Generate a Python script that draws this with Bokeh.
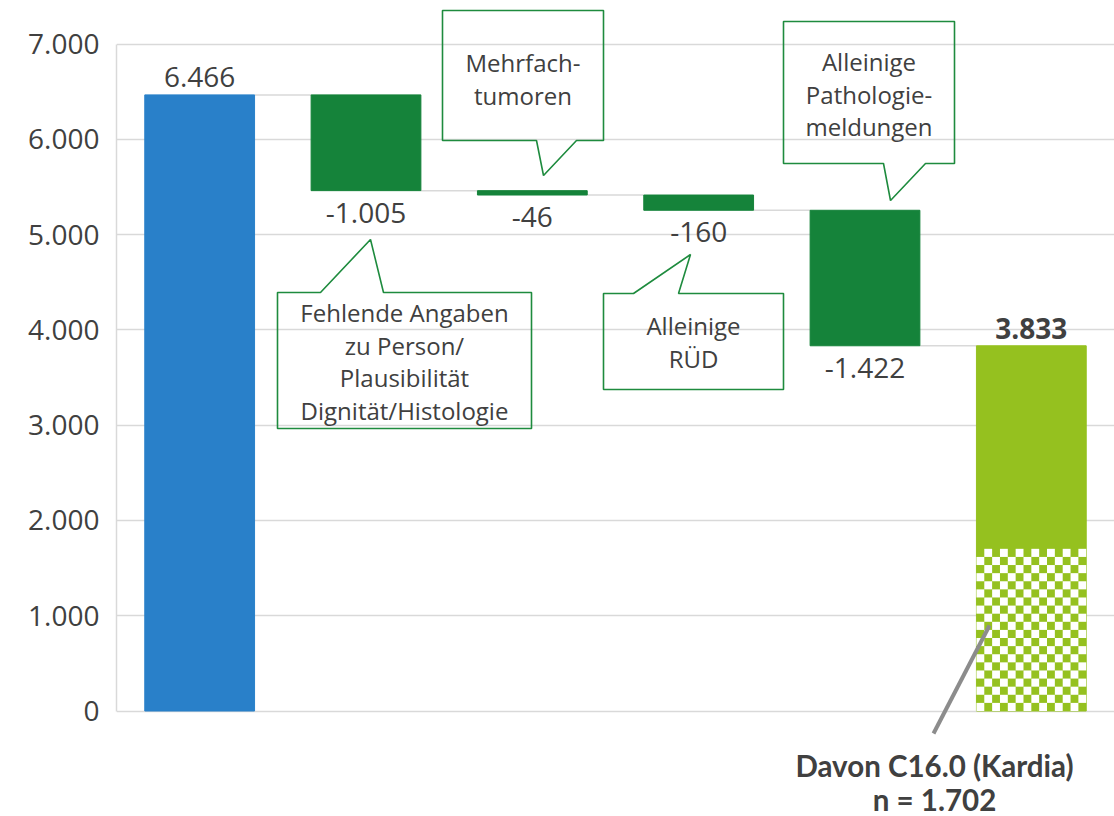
import numpy as np
from bokeh.plotting import figure
from bokeh.models import Range1d, FixedTicker
from bokeh.core.properties import value
from bokeh.embed import file_html
from bokeh.resources import INLINE

# ---------------- data ----------------
categories = ["Ausgangsbestand", "Fehlende Angaben", "Mehrfachtumoren",
              "Alleinige RÜD", "Alleinige Pathologiemeldungen", "Ergebnis"]
steps = [6466, -1005, -46, -160, -1422]
total = 3833
kardia = 1702
tick_values = [0, 1000, 2000, 3000, 4000, 5000, 6000, 7000]
tick_labels = ["0", "1.000", "2.000", "3.000", "4.000", "5.000", "6.000", "7.000"]
callout_texts = [
    ["Fehlende Angaben", "zu Person/", "Plausibilität", "Dignität/Histologie"],
    ["Mehrfach-", "tumoren"],
    ["Alleinige", "RÜD"],
    ["Alleinige", "Pathologie-", "meldungen"],
]
note_lines = ["Davon C16.0 (Kardia)", "n = 1.702"]

# ---------------- layout helpers (pixel -> data) ----------------
W, H = 1114, 816
X0_PX, Y0_PX = 116, 710.5
PX_PER_CAT = (W - X0_PX) / 6
PX_PER_UNIT = (710.5 - 43.5) / 7000


def dx(px):
    return (px - X0_PX) / PX_PER_CAT


def dy(py):
    return (Y0_PX - py) / PX_PER_UNIT


def fmt(v):
    return f"{v:,}".replace(",", ".")


TEXT = "#404040"
GRID = "#d9d9d9"
BLUE = "#2980C9"
DGREEN = "#15833A"
LGREEN = "#95C11F"
NUM_FONT = "Open Sans"
NUM_SIZE = "28px"

p = figure(width=W, height=H, output_backend="svg", toolbar_location=None,
           x_range=Range1d(0, 6), y_range=Range1d(dy(H), dy(0)),
           x_axis_type=None, min_border_left=X0_PX, min_border_right=0,
           min_border_top=0, min_border_bottom=0)
p.outline_line_color = None
p.background_fill_color = "white"
p.border_fill_color = "white"

# axis
ax = p.yaxis[0]
ax.ticker = FixedTicker(ticks=tick_values)
ax.major_label_overrides = {t: l for t, l in zip(tick_values, tick_labels)}
ax.bounds = (tick_values[0], tick_values[-1])
ax.axis_line_color = GRID
ax.axis_line_width = 1.5
ax.major_tick_line_color = None
ax.minor_tick_line_color = None
ax.major_label_standoff = 11
ax.major_label_text_font = NUM_FONT
ax.major_label_text_font_size = NUM_SIZE
ax.major_label_text_color = TEXT
p.ygrid.ticker = FixedTicker(ticks=tick_values)
p.ygrid.grid_line_color = GRID
p.ygrid.grid_line_width = 1.5
p.xgrid.visible = False

# waterfall geometry
xs = np.arange(6) + 0.5
bottoms, tops = [], []
run = 0
for i, v in enumerate(steps):
    if i == 0:
        bottoms.append(0); tops.append(v); run = v
    else:
        tops.append(run); run += v; bottoms.append(run)
bottoms.append(0); tops.append(total)
colors = [BLUE] + [DGREEN] * 4 + [LGREEN]
BW = 0.66

# connectors
levels = [tops[0]] + bottoms[1:5]
p.segment(x0=xs[:5] + BW / 2, x1=xs[1:] - BW / 2, y0=levels, y1=levels,
          line_color=GRID, line_width=1.5)

p.vbar(x=xs, width=BW, bottom=bottoms, top=tops, fill_color=colors,
       line_color=colors, line_width=1)

# checker pattern for Kardia subset
ncol, nrow = 14, 20
cw, ch = BW / ncol, kardia / nrow
ii, jj = np.meshgrid(np.arange(ncol), np.arange(nrow))
mask = ((ii + jj) % 2 == 0).ravel()
lefts = (xs[5] - BW / 2 + ii.ravel() * cw)[mask]
bots = (jj.ravel() * ch)[mask]
p.quad(left=lefts, right=lefts + cw, bottom=bots, top=bots + ch,
       fill_color="white", line_color=None)

# value labels
lab_x, lab_y, lab_t = [], [], []
lab_y.append(tops[0] + 18 / PX_PER_UNIT); lab_x.append(xs[0]); lab_t.append(fmt(steps[0]))
for i in range(1, 5):
    lab_x.append(xs[i]); lab_y.append(bottoms[i] - 22 / PX_PER_UNIT); lab_t.append(fmt(steps[i]))
p.text(x=lab_x, y=lab_y, text=lab_t, text_align="center", text_baseline="middle",
       text_font=value(NUM_FONT), text_font_size=NUM_SIZE, text_color=TEXT)
p.text(x=[xs[5]], y=[tops[5] + 17 / PX_PER_UNIT], text=[fmt(total)],
       text_align="center", text_baseline="middle", text_font=value(NUM_FONT),
       text_font_size=NUM_SIZE, text_font_style="bold", text_color=TEXT)

# callouts (pixel layout)
boxes = [
    dict(L=277, T=292, R=531, B=428, side="top", t1=320, t2=383, tip=(370, 239), y0=312),
    dict(L=442, T=10, R=603, B=140, side="bottom", t1=536, t2=576, tip=(543, 175), y0=62),
    dict(L=603, T=293, R=783, B=389, side="top", t1=633, t2=678, tip=(690, 254), y0=325),
    dict(L=783, T=21, R=954, B=163, side="bottom", t1=883, t2=925, tip=(890, 200), y0=61),
]
pxs, pys = [], []
tx, ty, tt = [], [], []
for b, lines in zip(boxes, callout_texts):
    L, T, R, B = b["L"], b["T"], b["R"], b["B"]
    tipx, tipy = b["tip"]
    if b["side"] == "top":
        pts = [(L, T), (b["t1"], T), (tipx, tipy), (b["t2"], T), (R, T), (R, B), (L, B)]
    else:
        pts = [(L, T), (R, T), (R, B), (b["t2"], B), (tipx, tipy), (b["t1"], B), (L, B)]
    pxs.append([dx(a) for a, _ in pts])
    pys.append([dy(c) for _, c in pts])
    for k, line in enumerate(lines):
        tx.append(dx((L + R) / 2)); ty.append(dy(b["y0"] + k * 32.5)); tt.append(line)
p.patches(xs=pxs, ys=pys, fill_color=None, line_color="#1E8B3E", line_width=1.6)
p.text(x=tx, y=ty, text=tt, text_align="center", text_baseline="middle",
       text_font=value("Open Sans"), text_font_size="24px", text_color=TEXT)

# Kardia pointer + note
p.segment(x0=[dx(989)], y0=[dy(625)], x1=[dx(933)], y1=[dy(733)],
          line_color="#8c8c8c", line_width=4)
p.text(x=[dx(934)] * 2, y=[dy(765), dy(799)], text=note_lines,
       text_align="center", text_baseline="middle", text_font=value("Lato"),
       text_font_size="29.5px", text_font_style="bold", text_color=TEXT)

open("out.html", "w").write(file_html(p, INLINE))
